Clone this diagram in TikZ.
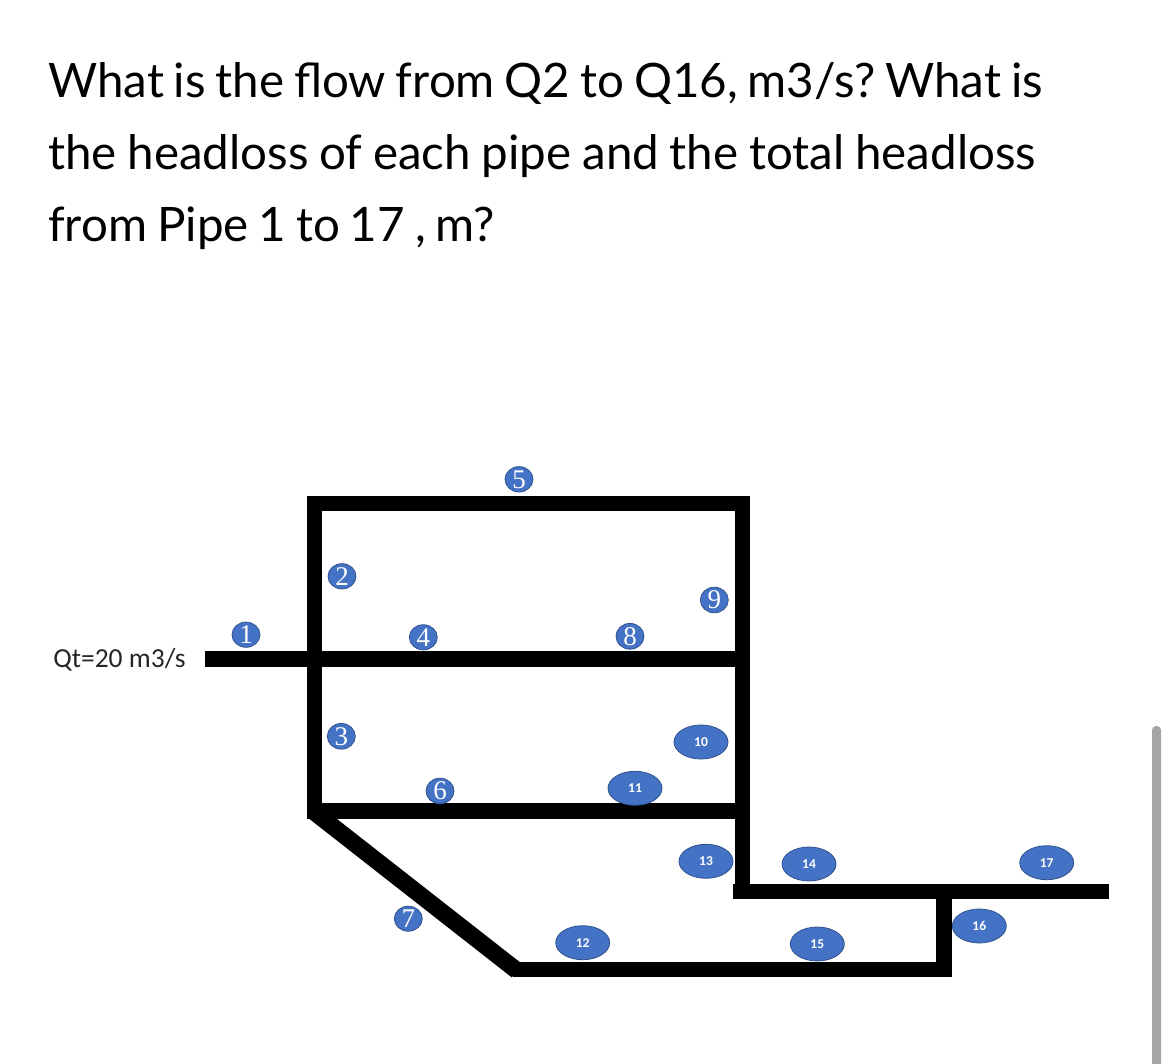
\documentclass[tikz,border=0pt]{standalone}
\usepackage{fontspec}
\setmainfont{Lato}
\newfontfamily\calibrilike{Carlito}
\newfontfamily\cambrialike{Liberation Serif}
\usetikzlibrary{shapes.geometric}
\definecolor{pipeblue}{HTML}{4472C4}
\definecolor{pipeedge}{HTML}{2F528F}
\definecolor{scrollgray}{HTML}{A6A6A6}
\frenchspacing
\newcommand{\tightwords}[1]{\spaceskip=\dimexpr\fontdimen2\font-#1\relax}
\tikzset{
  pipe/.style={line width=15.5pt,black,line join=miter,line cap=butt},
  diagpipe/.style={line width=17pt,black,line cap=butt},
  question/.style={anchor=base west,inner sep=0pt,font=\fontsize{47.5}{47.5}\selectfont,text=black},
  smalltag/.style={ellipse,draw=pipeedge,line width=0.8pt,fill=pipeblue,inner sep=0pt,minimum width=28pt,minimum height=24pt,text=white,font=\cambrialike\fontsize{27}{27}\selectfont},
  bigtag/.style={ellipse,draw=pipeedge,line width=0.8pt,fill=pipeblue,inner sep=0pt,minimum width=54pt,minimum height=34pt,text=white,font=\calibrilike\bfseries\fontsize{13.5}{13.5}\selectfont},
  flowlabel/.style={anchor=center,inner sep=0pt,text=black!85,font=\calibrilike\fontsize{27.5}{27.5}\selectfont}
}
\begin{document}
\begin{tikzpicture}[x=1pt,y=-1pt]
\useasboundingbox (0,0) rectangle (1170,1064);
\fill[white] (0,0) rectangle (1170,1064);
% question text
\node[question] (q1) at (48,98) {\tightwords{2.3pt}What is the flow from Q2 to Q16, m3/s? What is};
\node[question] (q2) at (48,170) {\tightwords{1.4pt}the headloss of each pipe and the total headloss};
\node[question] (q3) at (48,242) {\tightwords{2.2pt}from Pipe 1 to 17 , m?};
% junctions
\coordinate (inlet) at (204.5,659);
\coordinate (tl) at (314.5,503.3);
\coordinate (ml) at (314.5,659);
\coordinate (bl) at (314.5,810.8);
\coordinate (tr) at (742.7,503.3);
\coordinate (mr) at (742.7,659);
\coordinate (br) at (742.7,810.8);
\coordinate (lowr) at (742.7,891.5);
\coordinate (lowstart) at (733,891.5);
\coordinate (outlet) at (1108.7,891.5);
\coordinate (tee) at (944,891.5);
\coordinate (botr) at (944,969.5);
\coordinate (botl) at (513,969.5);
\coordinate (diagstart) at (313,811);
\coordinate (diagend) at (517,970.7);
% pipes
\draw[pipe] (bl |- 0,818.5) -- (tl |- 0,495.5);
\draw[pipe] (307,503.3) -- (tr) -- (lowr);
\draw[pipe] (inlet) -- (mr);
\draw[pipe] (bl) -- (br);
\draw[pipe] (lowstart) -- (outlet);
\draw[diagpipe] (diagstart) -- (diagend);
\draw[pipe] (botl) -- (botr) -- (tee);
% numbered tags
\node[smalltag] (n1) at (246,634.7) {1};
\node[smalltag] (n2) at (342,576.3) {2};
\node[smalltag] (n3) at (341.3,736.3) {3};
\node[smalltag] (n4) at (423.3,637.3) {4};
\node[smalltag] (n5) at (519,479.3) {5};
\node[smalltag] (n6) at (440,791) {6};
\node[smalltag] (n7) at (408.3,918.7) {7};
\node[smalltag] (n8) at (630,636.3) {8};
\node[smalltag] (n9) at (714.3,600) {9};
\node[bigtag] (n10) at (701,742) {10};
\node[bigtag] (n11) at (635,788.3) {11};
\node[bigtag] (n12) at (582.7,942.7) {12};
\node[bigtag] (n13) at (706,861.3) {13};
\node[bigtag] (n14) at (809,864) {14};
\node[bigtag] (n15) at (817.3,944) {15};
\node[bigtag] (n16) at (979.3,926) {16};
\node[bigtag] (n17) at (1046.7,862.7) {17};
\node[flowlabel] (qt) at (119.5,660) {Qt=20 m3/s};
% scrollbar
\fill[scrollgray,rounded corners=4pt] (1152,726) rectangle (1161,1075);
\end{tikzpicture}
\end{document}
